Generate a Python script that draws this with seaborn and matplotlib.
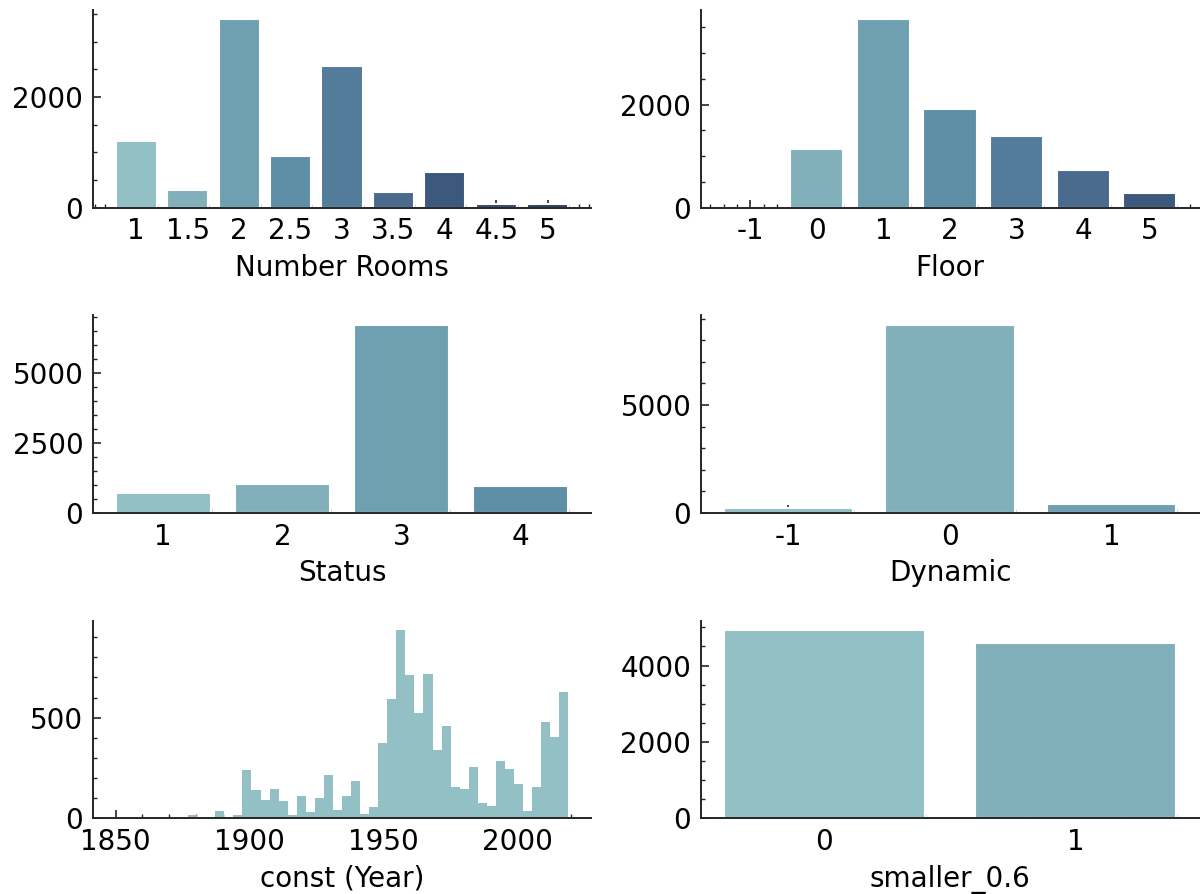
import numpy as np
import pandas as pd
import matplotlib
matplotlib.use("Agg")
import matplotlib.pyplot as plt
from matplotlib.ticker import AutoMinorLocator
import seaborn as sns

# ---------------- data ----------------
rooms_labels = ["1", "1.5", "2", "2.5", "3", "3.5", "4", "4.5", "5"]
rooms_counts = [1199, 313, 3404, 928, 2554, 277, 639, 60, 60]

floor_labels = ["-1", "0", "1", "2", "3", "4", "5"]
floor_counts = [0, 1135, 3652, 1910, 1387, 729, 284]

status_labels = ["1", "2", "3", "4"]
status_counts = [726, 1048, 6726, 976]

dynamic_labels = ["-1", "0", "1"]
dynamic_counts = [248, 8715, 402]

smaller_labels = ["0", "1"]
smaller_counts = [4922, 4583]

year_start, year_end, n_bins = 1850, 2019, 50
year_counts = [2, 0, 0, 0, 0, 4, 1, 5, 16, 2, 5, 36, 7, 16,
               241, 142, 92, 147, 87, 18, 112, 30, 102, 216,
               43, 112, 186, 23, 58, 375, 592, 934, 711, 523,
               716, 340, 459, 157, 147, 256, 78, 63, 285, 246,
               172, 38, 157, 479, 404, 627]

palette = ["#92c0c5", "#81b0bb", "#6fa0b1", "#5f8fa7", "#537c9a",
           "#4a6b8e", "#3d587d", "#32466b", "#2b3a5c"]

TICK_FS = 20
LABEL_FS = 20

# ---------------- style ----------------
sns.set_theme(style="ticks", context="talk")
plt.rcParams.update({
    "font.family": ["DejaVu Sans"],
    "axes.labelsize": LABEL_FS,
    "xtick.labelsize": TICK_FS,
    "ytick.labelsize": TICK_FS,
    "xtick.direction": "in",
    "ytick.direction": "in",
    "xtick.major.size": 5.5,
    "ytick.major.size": 5.5,
    "xtick.minor.size": 3,
    "ytick.minor.size": 3,
    "xtick.major.width": 1.2,
    "ytick.major.width": 1.2,
    "xtick.minor.width": 1.0,
    "ytick.minor.width": 1.0,
    "xtick.major.pad": 7,
    "ytick.major.pad": 7,
    "axes.labelpad": 6,
    "axes.linewidth": 1.4,
    "axes.edgecolor": "#262626",
    "xtick.color": "#262626",
    "ytick.color": "#262626",
    "xtick.labelcolor": "black",
    "ytick.labelcolor": "black",
    "axes.labelcolor": "black",
    "text.color": "black",
})

fig, axes = plt.subplots(3, 2, figsize=(12, 8.94), dpi=100)
fig.subplots_adjust(left=93 / 1200, right=1199 / 1200,
                    bottom=1 - 818.5 / 894, top=1 - 10 / 894,
                    wspace=0.221, hspace=0.546)


def count_bar(ax, labels, counts, xlabel):
    df = pd.DataFrame({"cat": labels, "count": counts})
    sns.barplot(data=df, x="cat", y="count", hue="cat", order=labels,
                hue_order=labels, palette=palette[:len(labels)],
                legend=False, saturation=1, ax=ax)
    ax.autoscale(enable=True, axis="x")
    ax.set_xlabel(xlabel, fontsize=LABEL_FS)
    ax.set_ylabel("")


count_bar(axes[0, 0], rooms_labels, rooms_counts, "Number Rooms")
count_bar(axes[0, 1], floor_labels, floor_counts, "Floor")
count_bar(axes[1, 0], status_labels, status_counts, "Status")
count_bar(axes[1, 1], dynamic_labels, dynamic_counts, "Dynamic")
count_bar(axes[2, 1], smaller_labels, smaller_counts, "smaller_0.6")

# histogram of construction year
edges = np.linspace(year_start, year_end, n_bins + 1)
centers = (edges[:-1] + edges[1:]) / 2
hdf = pd.DataFrame({"year": centers, "n": year_counts})
ax = axes[2, 0]
sns.histplot(data=hdf, x="year", weights="n", bins=n_bins,
             binrange=(year_start, year_end), color=palette[0],
             alpha=1, linewidth=0, edgecolor="none", ax=ax)
ax.set_xlabel("const (Year)", fontsize=LABEL_FS)
ax.set_ylabel("")

for ax in axes.flat:
    ax.tick_params(which="both", direction="in", top=False, right=False,
                   labelsize=TICK_FS)
    ax.yaxis.set_major_locator(matplotlib.ticker.AutoLocator())
    ax.xaxis.set_minor_locator(AutoMinorLocator())
    ax.yaxis.set_minor_locator(AutoMinorLocator())
    sns.despine(ax=ax)

fig.savefig("out.png", dpi=100)
